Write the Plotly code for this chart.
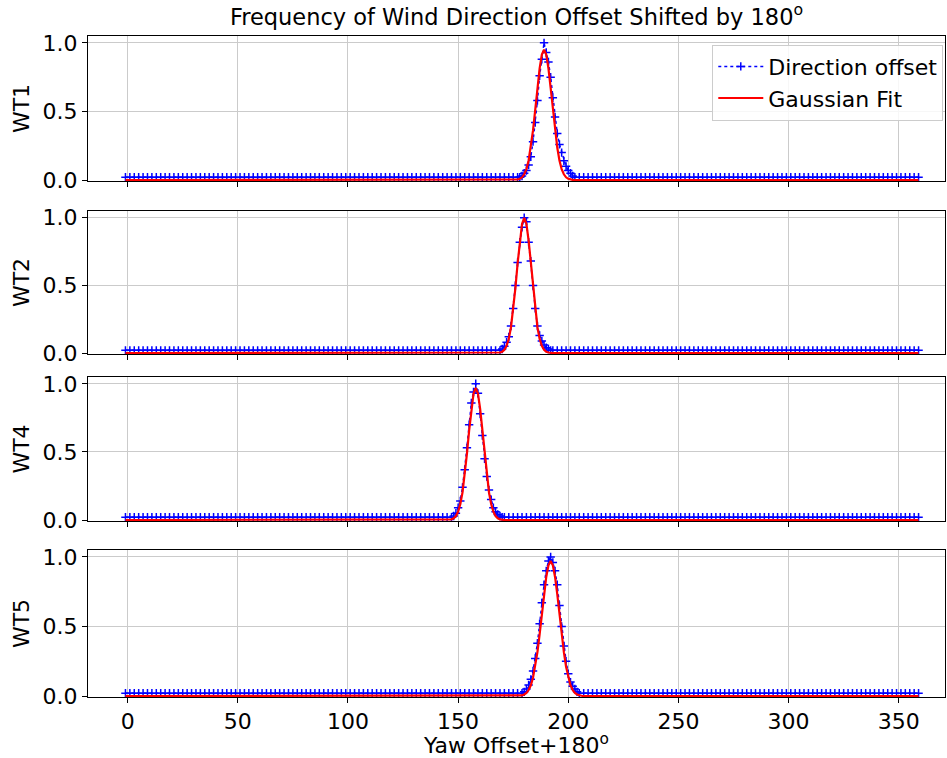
import plotly.graph_objects as go
from plotly.subplots import make_subplots

turbines = ["WT1", "WT2", "WT4", "WT5"]
x_start, x_end, x_step = -1, 359, 2
baseline_level = 0.02

# measured direction-offset frequencies around each peak (normalised)
wt1_peak_x = list(range(178, 204))
wt1_peak_y = [0.02, 0.03, 0.05, 0.07, 0.11, 0.17, 0.28, 0.42, 0.58, 0.76, 0.88, 1.0, 0.93,
              0.86, 0.75, 0.6, 0.46, 0.34, 0.26, 0.2, 0.14, 0.1, 0.07, 0.05, 0.03, 0.02]
wt2_peak_x = list(range(169, 193))
wt2_peak_y = [0.02, 0.03, 0.05, 0.08, 0.12, 0.2, 0.33, 0.5, 0.67, 0.82, 0.93, 1.0, 0.97,
              0.82, 0.68, 0.5, 0.33, 0.2, 0.13, 0.09, 0.06, 0.04, 0.03, 0.02]
wt4_peak_x = list(range(147, 171))
wt4_peak_y = [0.02, 0.03, 0.05, 0.09, 0.14, 0.24, 0.37, 0.53, 0.7, 0.86, 0.94, 1.0, 0.93,
              0.78, 0.62, 0.45, 0.32, 0.22, 0.15, 0.09, 0.06, 0.04, 0.03, 0.02]
wt5_peak_x = list(range(179, 206))
wt5_peak_y = [0.02, 0.03, 0.05, 0.08, 0.12, 0.18, 0.27, 0.38, 0.52, 0.67, 0.8, 0.9, 0.97,
              1.0, 0.96, 0.9, 0.8, 0.65, 0.5, 0.36, 0.25, 0.16, 0.1, 0.07, 0.05, 0.03, 0.02]

# Gaussian fit values
wt1_fit_x = list(range(176, 203))
wt1_fit_y = [0.001, 0.004, 0.009, 0.020, 0.042, 0.080, 0.143, 0.237, 0.362, 0.512, 0.672,
             0.814, 0.914, 0.95, 0.914, 0.814, 0.672, 0.512, 0.362, 0.237, 0.143, 0.080,
             0.042, 0.020, 0.009, 0.004, 0.001]
wt2_fit_x = list(range(168, 193))
wt2_fit_y = [0.001, 0.004, 0.010, 0.024, 0.053, 0.105, 0.191, 0.317, 0.480, 0.662, 0.832,
             0.955, 1.0, 0.955, 0.832, 0.662, 0.480, 0.317, 0.191, 0.105, 0.053, 0.024,
             0.010, 0.004, 0.001]
wt4_fit_x = list(range(146, 171))
wt4_fit_y = [0.002, 0.005, 0.013, 0.029, 0.061, 0.117, 0.204, 0.329, 0.485, 0.657, 0.816,
             0.929, 0.97, 0.929, 0.816, 0.657, 0.485, 0.329, 0.204, 0.117, 0.061, 0.029,
             0.013, 0.005, 0.002]
wt5_fit_x = list(range(178, 207))
wt5_fit_y = [0.002, 0.005, 0.011, 0.022, 0.043, 0.077, 0.131, 0.210, 0.315, 0.444, 0.588,
             0.732, 0.856, 0.940, 0.97, 0.940, 0.856, 0.732, 0.588, 0.444, 0.315, 0.210,
             0.131, 0.077, 0.043, 0.022, 0.011, 0.005, 0.002]

x_ticks = [0, 50, 100, 150, 200, 250, 300, 350]
y_ticks = [0.0, 0.5, 1.0]

peaks = [(wt1_peak_x, wt1_peak_y), (wt2_peak_x, wt2_peak_y),
         (wt4_peak_x, wt4_peak_y), (wt5_peak_x, wt5_peak_y)]
fits = [(wt1_fit_x, wt1_fit_y), (wt2_fit_x, wt2_fit_y),
        (wt4_fit_x, wt4_fit_y), (wt5_fit_x, wt5_fit_y)]

FONT = "DejaVu Sans"
fig = make_subplots(rows=4, cols=1, shared_xaxes=True)

for i, (name, (px, py), (fx, fy)) in enumerate(zip(turbines, peaks, fits)):
    row = i + 1
    pts = {x: baseline_level for x in range(x_start, x_end + 1, x_step)
           if x < px[0] or x > px[-1]}
    for x, y in zip(px, py):
        pts[x] = y
    bx = sorted(pts)
    by = [pts[x] for x in bx]
    rx = [x_start, fx[0] - 1] + fx + [fx[-1] + 1, x_end]
    ry = [0, 0] + fy + [0, 0]
    fig.add_trace(go.Scatter(
        x=bx, y=by, mode="lines+markers", name="Direction offset",
        line=dict(color="#0000ff", width=1.5, dash="dot"),
        marker=dict(symbol="cross-thin", size=6, line=dict(color="#0000ff", width=1.5)),
        showlegend=(row == 1), legendrank=1), row=row, col=1)
    fig.add_trace(go.Scatter(
        x=rx, y=ry, mode="lines", name="Gaussian Fit",
        line=dict(color="#ff0000", width=2.2),
        showlegend=(row == 1), legendrank=2), row=row, col=1)

domains = [[0.7806, 1.0], [0.5189, 0.7352], [0.2663, 0.4841], [0.0, 0.2224]]
for i, name in enumerate(turbines):
    row = i + 1
    fig.update_yaxes(
        domain=domains[i], range=[-0.007, 1.05], tickvals=y_ticks, tickformat=".1f",
        showgrid=True, gridcolor="#cbcbcb", gridwidth=1, zeroline=False,
        showline=True, mirror=True, linecolor="#000000", linewidth=1,
        ticks="outside", ticklen=5, tickcolor="#000000",
        tickfont=dict(family=FONT, size=22, color="#000000"),
        title=dict(text=name, font=dict(family=FONT, size=22, color="#000000"), standoff=6),
        row=row, col=1)
    fig.update_xaxes(
        range=[-18, 371], tickvals=x_ticks, showgrid=True, gridcolor="#cbcbcb", gridwidth=1,
        zeroline=False, showline=True, mirror=True, linecolor="#000000", linewidth=1,
        ticks="outside", ticklen=5, tickcolor="#000000",
        showticklabels=(row == 4),
        tickfont=dict(family=FONT, size=22, color="#000000"),
        row=row, col=1)

fig.update_xaxes(title=dict(text="Yaw Offset+180<sup>o</sup>",
                            font=dict(family=FONT, size=22, color="#000000"), standoff=2),
                 row=4, col=1)

fig.update_layout(
    width=947, height=758,
    margin=dict(l=88, r=2, t=36, b=61),
    paper_bgcolor="white", plot_bgcolor="white",
    title=dict(text="Frequency of Wind Direction Offset Shifted by 180<sup>o</sup>",
               x=0.5, xref="paper", xanchor="center", y=0.978, yanchor="middle",
               font=dict(family=FONT, size=22.5, color="#000000")),
    legend=dict(x=0.998, y=0.987, xanchor="right", yanchor="top",
                bgcolor="rgba(255,255,255,0.85)", bordercolor="#cccccc", borderwidth=1,
                font=dict(family=FONT, size=22, color="#000000"),
                tracegroupgap=0, itemwidth=45),
    showlegend=True,
)

fig.write_html("out.html")
